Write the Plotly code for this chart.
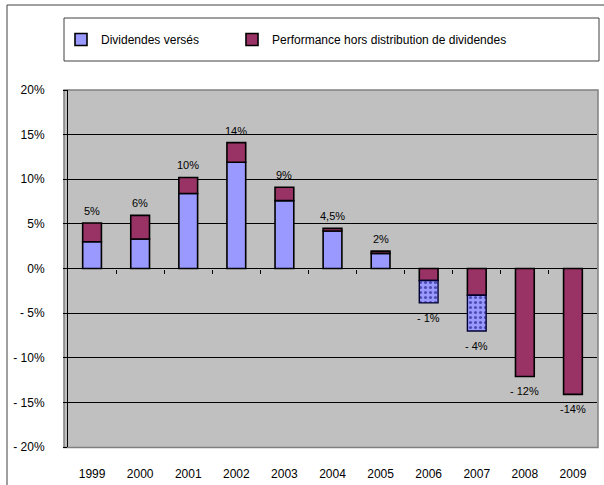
import plotly.graph_objects as go

years = ["1999", "2000", "2001", "2002", "2003", "2004", "2005", "2006", "2007", "2008", "2009"]
dividendes = [3.0, 3.3, 8.4, 11.9, 7.6, 4.2, 1.7, None, None, None, None]
performance = [2.1, 2.65, 1.8, 2.2, 1.5, 0.3, 0.25, -1.35, -3.0, -12.1, -14.1]
dividendes_neg = [None, None, None, None, None, None, None, -2.5, -4.0, None, None]
bar_labels = ["5%", "6%", "10%", "14%", "9%", "4,5%", "2%", "- 1%", "- 4%", "- 12%", "-14%"]
y_ticks = [20, 15, 10, 5, 0, -5, -10, -15, -20]
y_tick_text = ["20%", "15%", "10%", "5%", "0%", "- 5%", "- 10%", "- 15%", "- 20%"]

BLUE = "#9999FF"
MAROON = "#993366"
GRAY = "#C0C0C0"
FONT = "Liberation Sans, Arial, sans-serif"

W, H = 604, 485
L, R, T, B = 68, 7, 90, 38
PW, PH = W - L - R, H - T - B


def px_x(x):
    return (x - L) / PW


def px_y(y):
    return (H - B - y) / PH


fig = go.Figure()
fig.add_trace(go.Bar(
    x=years, y=dividendes, name="Dividendes versés", legend="legend",
    marker=dict(color=BLUE, line=dict(color="black", width=1.6)),
))
fig.add_trace(go.Bar(
    x=years, y=performance, name="Performance hors distribution de dividendes", legend="legend2",
    marker=dict(color=MAROON, line=dict(color="black", width=1.6)),
))
fig.add_trace(go.Bar(
    x=years, y=dividendes_neg, name="Dividendes versés", showlegend=False,
    marker=dict(color=BLUE, line=dict(color="#000033", width=1.4),
                pattern=dict(shape=".", fgcolor="#000066", bgcolor=BLUE, size=5, solidity=0.3)),
))
# invisible trace carrying the tick axis at the zero line
fig.add_trace(go.Scatter(x=[0], y=[0], xaxis="x2", mode="markers",
                         marker=dict(opacity=0), showlegend=False, hoverinfo="skip"))

# labels at the end of each bar
for i, yr in enumerate(years):
    parts = [v for v in (dividendes[i], performance[i], dividendes_neg[i]) if v is not None]
    pos = sum(v for v in parts if v > 0)
    neg = sum(v for v in parts if v < 0)
    if pos > 0:
        fig.add_annotation(x=i, y=pos, text=bar_labels[i], showarrow=False,
                           yanchor="middle", yshift=12, font=dict(size=11, color="black", family=FONT))
    else:
        fig.add_annotation(x=i, y=neg, text=bar_labels[i], showarrow=False,
                           yanchor="middle", yshift=-15, font=dict(size=11, color="black", family=FONT))

shapes = [
    # outer frame
    dict(type="rect", xref="paper", yref="paper", x0=px_x(7), x1=px_x(620), y0=px_y(500), y1=px_y(5),
         line=dict(color="#404040", width=1), fillcolor="rgba(0,0,0,0)", layer="below"),
    # plot area border / shadow
    dict(type="rect", xref="paper", yref="paper", x0=px_x(64), x1=px_x(598), y0=px_y(447.5), y1=px_y(90),
         line=dict(color="#808080", width=1.5), fillcolor=GRAY, layer="below"),
    # legend box
    dict(type="rect", xref="paper", yref="paper", x0=px_x(64), x1=px_x(599), y0=px_y(61), y1=px_y(18),
         line=dict(color="#404040", width=1), fillcolor="white", layer="below"),
]

legend_common = dict(orientation="h", yanchor="middle", xanchor="left",
                     bgcolor="rgba(0,0,0,0)", borderwidth=0, font=dict(size=12, family=FONT))

fig.update_layout(
    width=W, height=H,
    margin=dict(l=L, r=R, t=T, b=B, pad=0, autoexpand=False),
    paper_bgcolor="white", plot_bgcolor=GRAY,
    barmode="relative", bargap=0.61,
    font=dict(family=FONT, size=12, color="black"),
    shapes=shapes,
    showlegend=True,
    legend=dict(x=px_x(61), y=px_y(39.5), **legend_common),
    legend2=dict(x=px_x(232), y=px_y(39.5), **legend_common),
    xaxis=dict(type="category", categoryorder="array", categoryarray=years, automargin=False,
               range=[-0.5, len(years) - 0.5], showgrid=False, zeroline=False, showline=False,
               ticks="", ticklabelstandoff=18, tickfont=dict(size=12, family=FONT)),
    xaxis2=dict(overlaying="x", anchor="free", position=0.5, side="bottom", automargin=False,
                range=[-0.5, len(years) - 0.5], showgrid=False, zeroline=False, showline=False,
                tickvals=[i + 0.5 for i in range(len(years) - 1)], ticks="outside", ticklen=4,
                tickcolor="black", tickwidth=1, showticklabels=False),
    yaxis=dict(range=[-20, 20], tickvals=y_ticks, ticktext=y_tick_text, automargin=False,
               showgrid=True, gridcolor="black", gridwidth=1,
               zeroline=True, zerolinecolor="black", zerolinewidth=1,
               showline=True, linecolor="black", linewidth=1,
               ticks="outside", ticklen=4, tickcolor="black", ticklabelstandoff=16,
               tickfont=dict(size=12, family=FONT)),
    hovermode=False,
)

fig.write_html("out.html", config={"displayModeBar": False},
               post_script="document.body.style.margin='0';")
